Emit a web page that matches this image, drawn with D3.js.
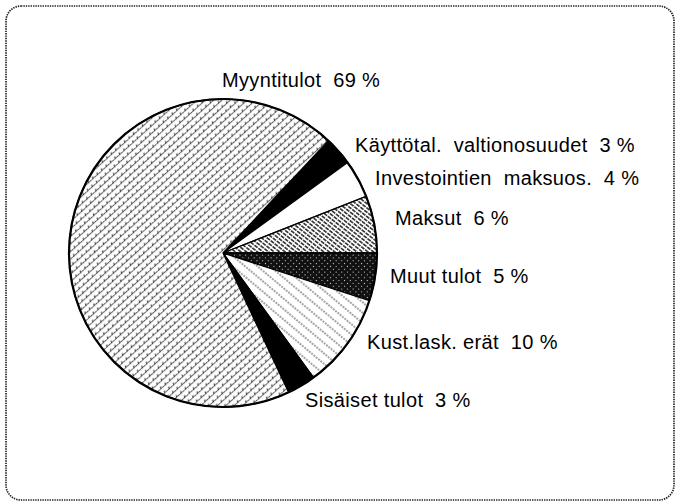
<!DOCTYPE html>
<html lang="fi">
<head>
<meta charset="UTF-8">
<title>Tulot</title>
<script src="https://cdn.jsdelivr.net/npm/d3@7.8.5/dist/d3.min.js"></script>
<style>
    body{
        margin:0;
        background:#fff;
    }
    svg{
        display:block;
    }
    .lbl{
        font-family:"Liberation Sans", Arial, Helvetica, sans-serif;
        font-size:20px;
        letter-spacing:0.35px;
        fill:#000;
        white-space:pre;
    }
</style>
</head>
<body>
<div id="chart"></div>
<script>
    // slices clockwise, starting at the boundary above Käyttötal
    const names = ["Käyttötal.  valtionosuudet", "Investointien  maksuos.", "Maksut", "Muut tulot", "Kust.lask. erät", "Sisäiset tulot", "Myyntitulot"];
    const shares = [3, 4, 6, 5, 10, 3, 69];
    const fills = ["#000", "#fff", "url(#p-maksut)", "url(#p-muut)", "url(#p-kust)", "#000", "url(#p-myynti)"];

    // where the label texts start (layout only)
    const labelAt = [[355, 152], [375, 185], [395, 225], [390, 283], [367, 349], [305, 407], [222, 87]];

    const W = 679, H = 503;
    const cx = 223, cy = 253, r = 154;

    const svg = d3.select("#chart").append("svg")
        .attr("width", W)
        .attr("height", H);

    const defs = svg.append("defs");

    // Myyntitulot: rows of little marks going up to the right
    const pMy = defs.append("pattern")
        .attr("id", "p-myynti")
        .attr("patternUnits", "userSpaceOnUse")
        .attr("width", 6).attr("height", 5.6)
        .attr("patternTransform", "rotate(-42)");
    pMy.append("rect").attr("width", 6).attr("height", 5.6).attr("fill", "#fff");
    pMy.append("path")
        .attr("d", "M0,3.4 L6,3.4 M1,3.4 L2,1.5 L3,3.4")
        .attr("fill", "none")
        .attr("stroke", "#222")
        .attr("stroke-width", 0.85)
        .attr("stroke-dasharray", "2.4,0.8");

    // Maksut: dense lines going down to the right
    const pMa = defs.append("pattern")
        .attr("id", "p-maksut")
        .attr("patternUnits", "userSpaceOnUse")
        .attr("width", 5).attr("height", 3.4)
        .attr("patternTransform", "rotate(38)");
    pMa.append("rect").attr("width", 5).attr("height", 3.4).attr("fill", "#fff");
    pMa.append("line")
        .attr("x1", 0).attr("x2", 5).attr("y1", 1.7).attr("y2", 1.7)
        .attr("stroke", "#111")
        .attr("stroke-width", 1.4)
        .attr("stroke-dasharray", "4,1");

    // Muut tulot: dark cross hatch with light specks
    const pMu = defs.append("pattern")
        .attr("id", "p-muut")
        .attr("patternUnits", "userSpaceOnUse")
        .attr("width", 4).attr("height", 4)
        .attr("patternTransform", "rotate(45)");
    pMu.append("rect").attr("width", 4).attr("height", 4).attr("fill", "#111");
    pMu.append("path")
        .attr("d", "M1,1 L2,2 M2,1 L1,2")
        .attr("stroke", "#fff")
        .attr("stroke-width", 0.6);

    // Kust.lask. erät: sparse thin lines going down to the right
    const pKu = defs.append("pattern")
        .attr("id", "p-kust")
        .attr("patternUnits", "userSpaceOnUse")
        .attr("width", 6).attr("height", 8)
        .attr("patternTransform", "rotate(40)");
    pKu.append("rect").attr("width", 6).attr("height", 8).attr("fill", "#fff");
    pKu.append("line")
        .attr("x1", 0).attr("x2", 6).attr("y1", 4).attr("y2", 4)
        .attr("stroke", "#000")
        .attr("stroke-width", 0.7)
        .attr("stroke-dasharray", "2,1");

    // frame
    svg.append("rect")
        .attr("x", 6).attr("y", 6)
        .attr("width", 668).attr("height", 494)
        .attr("rx", 15)
        .attr("fill", "none")
        .attr("stroke", "#222")
        .attr("stroke-width", 1.7)
        .attr("stroke-dasharray", "1.4,1");

    // Maksut ends exactly at 3 o'clock
    const before = d3.sum(shares.slice(0, names.indexOf("Maksut") + 1));
    const start = Math.PI / 2 - 2 * Math.PI * before / d3.sum(shares);

    const pie = d3.pie()
        .sort(null)
        .value(d => d)
        .startAngle(start)
        .endAngle(start + 2 * Math.PI);

    const arc = d3.arc().innerRadius(0).outerRadius(r);

    const g = svg.append("g").attr("transform", `translate(${cx},${cy})`);

    g.selectAll("path.slice")
        .data(pie(shares))
        .enter()
        .append("path")
        .attr("class", "slice")
        .attr("d", arc)
        .attr("fill", (d, i) => fills[i])
        .attr("stroke", "#000")
        .attr("stroke-width", 1.3)
        .attr("stroke-linejoin", "round");

    g.append("circle")
        .attr("r", r)
        .attr("fill", "none")
        .attr("stroke", "#000")
        .attr("stroke-width", 2.2);

    // labels
    svg.selectAll("text.lbl")
        .data(names)
        .enter()
        .append("text")
        .attr("class", "lbl")
        .attr("x", (d, i) => labelAt[i][0])
        .attr("y", (d, i) => labelAt[i][1])
        .text((d, i) => `${d}  ${shares[i]} %`);
</script>
</body>
</html>
